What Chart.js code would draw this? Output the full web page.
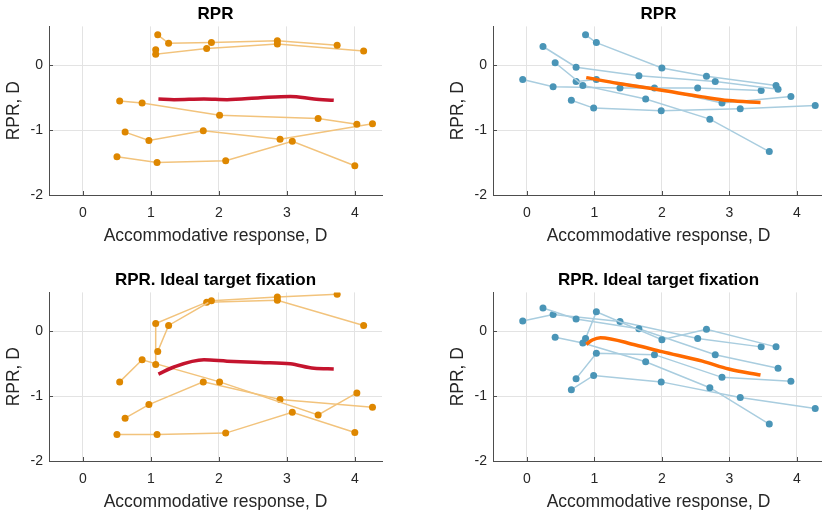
<!DOCTYPE html>
<html>
<head>
<meta charset="utf-8">
<script src="https://cdn.jsdelivr.net/npm/chart.js@4.4.1/dist/chart.umd.min.js"></script>
<style>
  html, body { margin: 0; padding: 0; background: #fff; overflow: hidden; width: 822px; height: 510px; }
  canvas { position: absolute; }
</style>
</head>
<body>
<canvas id="c1" width="411" height="255" style="left:0;top:0"></canvas>
<canvas id="c2" width="385" height="255" style="left:444px;top:0"></canvas>
<canvas id="c3" width="411" height="255" style="left:0;top:266px"></canvas>
<canvas id="c4" width="385" height="255" style="left:444px;top:266px"></canvas>
<script>
const xTicks = [0, 1, 2, 3, 4];
const yTicks = [-2, -1, 0];

// left group: accommodative response per subject (5 stimulus levels)
const leftX = [
    [1.10, 1.26, 1.89, 2.86, 3.74],
    [1.07, 1.07, 1.82, 2.86, 4.13],
    [0.54, 0.87, 2.01, 3.46, 4.03],
    [0.62, 0.97, 1.77, 2.90, 4.26],
    [0.50, 1.09, 2.10, 3.08, 4.00]
];
const leftRpr = [
    [0.47, 0.34, 0.35, 0.38, 0.31],
    [0.24, 0.17, 0.26, 0.33, 0.22],
    [-0.55, -0.58, -0.77, -0.82, -0.91],
    [-1.03, -1.16, -1.01, -1.14, -0.90],
    [-1.41, -1.50, -1.47, -1.17, -1.55]
];
const leftIdeal = [
    [-0.31, 0.09, 0.47, 0.53, 0.57],
    [-0.51, 0.12, 0.45, 0.48, 0.09],
    [-0.78, -0.44, -0.78, -1.29, -0.95],
    [-1.34, -1.13, -0.78, -1.05, -1.17],
    [-1.59, -1.59, -1.57, -1.25, -1.56]
];
const leftMeanX = [1.11, 1.34, 1.78, 2.12, 2.61, 3.05, 3.40, 3.69];
const leftMeanRpr = [-0.52, -0.53, -0.52, -0.53, -0.50, -0.48, -0.52, -0.54];
const leftMeanIdeal = [-0.66, -0.55, -0.44, -0.46, -0.48, -0.50, -0.57, -0.58];

// right group
const rightX = [
    [0.87, 1.03, 2.00, 2.66, 3.69],
    [0.24, 0.73, 1.66, 2.79, 3.72],
    [0.42, 0.83, 1.76, 2.71, 3.59],
    [-0.06, 0.39, 1.38, 2.53, 3.47],
    [0.73, 1.03, 1.89, 2.89, 3.91],
    [0.66, 0.99, 1.99, 3.16, 4.27]
];
const rightRpr = [
    [0.47, 0.35, -0.04, -0.17, -0.31],
    [0.29, -0.03, -0.16, -0.25, -0.37],
    [0.04, -0.31, -0.52, -0.83, -1.33],
    [-0.22, -0.33, -0.35, -0.35, -0.39],
    [-0.25, -0.22, -0.35, -0.58, -0.48],
    [-0.54, -0.66, -0.70, -0.67, -0.62]
];
const rightIdeal = [
    [-0.11, 0.30, -0.13, 0.03, -0.24],
    [0.36, 0.19, 0.04, -0.36, -0.57],
    [-0.09, -0.18, -0.47, -0.87, -1.43],
    [0.16, 0.26, 0.15, -0.11, -0.24],
    [-0.73, -0.34, -0.36, -0.71, -0.77],
    [-0.90, -0.68, -0.78, -1.02, -1.19]
];
const rightMeanRprX = [0.88, 1.36, 2.00, 2.60, 2.99, 3.46];
const rightMeanRpr = [-0.19, -0.28, -0.385, -0.487, -0.544, -0.574];
const rightMeanIdealX = [0.88, 0.97, 1.09, 1.61, 2.00, 2.60, 2.99, 3.46];
const rightMeanIdeal = [-0.20, -0.134, -0.098, -0.211, -0.314, -0.459, -0.582, -0.675];

const FONT = "'Liberation Sans', Arial, sans-serif";

// MATLAB style inward tick marks
const innerTicks = {
    id: "innerTicks",
    afterDraw(chart) {
        const { ctx, chartArea: a, scales: { x, y } } = chart;
        ctx.save();
        ctx.strokeStyle = "#4d4d4d";
        ctx.lineWidth = 1;
        ctx.beginPath();
        xTicks.forEach(v => {
            const px = Math.round(x.getPixelForValue(v)) + 0.5;
            ctx.moveTo(px, a.bottom);
            ctx.lineTo(px, a.bottom - 4);
        });
        yTicks.forEach(v => {
            const py = Math.round(y.getPixelForValue(v)) + 0.5;
            ctx.moveTo(a.left, py);
            ctx.lineTo(a.left + 4, py);
        });
        ctx.stroke();
        ctx.restore();
    }
};

function subjectSets(xs, ys, dot, line) {
    return xs.map((row, i) => ({
        data: row.map((x, j) => ({ x: x, y: ys[i][j] })),
        showLine: true,
        borderColor: line,
        borderWidth: 1.5,
        pointRadius: 3.5,
        pointHoverRadius: 3.5,
        pointBackgroundColor: dot,
        pointBorderWidth: 0,
        tension: 0,
        order: 1
    }));
}

function meanSet(xs, ys, color) {
    return {
        data: xs.map((x, j) => ({ x: x, y: ys[j] })),
        showLine: true,
        borderColor: color,
        borderWidth: 3.5,
        pointRadius: 0,
        tension: 0.4,
        cubicInterpolationMode: "monotone",
        order: 0
    };
}

function makeChart(id, title, datasets, rightPad) {
    new Chart(document.getElementById(id), {
        type: "scatter",
        data: { datasets: datasets },
        options: {
            responsive: false,
            animation: false,
            events: [],
            layout: { padding: { left: 0, right: rightPad, top: 1, bottom: 0 } },
            plugins: {
                legend: { display: false },
                tooltip: { enabled: false },
                title: {
                    display: true,
                    text: title,
                    fullSize: false,
                    color: "#000",
                    font: { family: FONT, size: 17, weight: "bold" },
                    padding: { top: 3, bottom: 2 }
                }
            },
            scales: {
                x: {
                    type: "linear",
                    min: -0.5,
                    max: 4.4,
                    afterBuildTicks: s => { s.ticks = xTicks.map(v => ({ value: v })); },
                    afterFit: s => { s.height = 60; },
                    ticks: { color: "#262626", padding: 10, font: { family: FONT, size: 14 } },
                    grid: { color: "#e3e3e3", drawTicks: false },
                    border: { color: "#4d4d4d", width: 1 },
                    title: {
                        display: true,
                        text: "Accommodative response, D",
                        color: "#262626",
                        font: { family: FONT, size: 17.5 },
                        padding: { top: 0, bottom: 8 }
                    }
                },
                y: {
                    type: "linear",
                    min: -2,
                    max: 0.6,
                    afterBuildTicks: s => { s.ticks = yTicks.map(v => ({ value: v })); },
                    afterFit: s => { s.width = 49; },
                    ticks: { color: "#262626", padding: 6, font: { family: FONT, size: 14 } },
                    grid: { color: "#e3e3e3", drawTicks: false },
                    border: { color: "#4d4d4d", width: 1 },
                    title: {
                        display: true,
                        text: "RPR, D",
                        color: "#262626",
                        font: { family: FONT, size: 17.5 },
                        padding: { top: 4, bottom: 0 }
                    }
                }
            }
        },
        plugins: [innerTicks]
    });
}

const ORANGE_DOT = "#de8700";
const ORANGE_LINE = "#f2c37c";
const BLUE_DOT = "#4a95b7";
const BLUE_LINE = "#a9cddf";
const RED_MEAN = "#c4142e";
const ORANGE_MEAN = "#ff6a00";

makeChart("c1", "RPR",
    subjectSets(leftX, leftRpr, ORANGE_DOT, ORANGE_LINE).concat([meanSet(leftMeanX, leftMeanRpr, RED_MEAN)]), 29);
makeChart("c2", "RPR",
    subjectSets(rightX, rightRpr, BLUE_DOT, BLUE_LINE).concat([meanSet(rightMeanRprX, rightMeanRpr, ORANGE_MEAN)]), 5);
makeChart("c3", "RPR. Ideal target fixation",
    subjectSets(leftX, leftIdeal, ORANGE_DOT, ORANGE_LINE).concat([meanSet(leftMeanX, leftMeanIdeal, RED_MEAN)]), 29);
makeChart("c4", "RPR. Ideal target fixation",
    subjectSets(rightX, rightIdeal, BLUE_DOT, BLUE_LINE).concat([meanSet(rightMeanIdealX, rightMeanIdeal, ORANGE_MEAN)]), 5);
</script>
</body>
</html>
